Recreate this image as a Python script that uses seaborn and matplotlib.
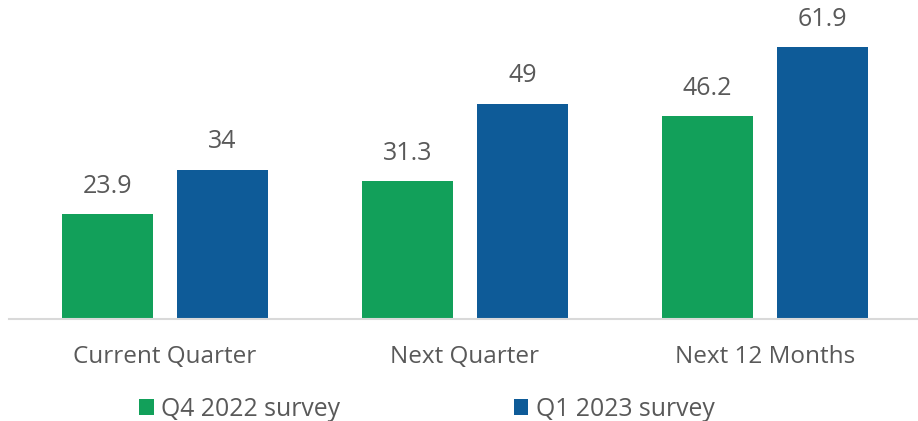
import matplotlib
matplotlib.use("Agg")
import matplotlib.pyplot as plt
import seaborn as sns
import pandas as pd
from matplotlib.patches import Patch

categories = ["Current Quarter", "Next Quarter", "Next 12 Months"]
series_names = ["Q4 2022 survey", "Q1 2023 survey"]
q4_2022 = [23.9, 31.3, 46.2]
q1_2023 = [34, 49, 61.9]
value_labels_q4 = ["23.9", "31.3", "46.2"]
value_labels_q1 = ["34", "49", "61.9"]
colors = ["#12A05A", "#0E5B98"]

df = pd.DataFrame({
    "category": categories * 2,
    "series": [series_names[0]] * 3 + [series_names[1]] * 3,
    "value": q4_2022 + q1_2023,
    "label": value_labels_q4 + value_labels_q1,
})

sns.set_theme(style="white")
plt.rcParams["font.family"] = ["Open Sans", "DejaVu Sans"]
text_color = "#595959"

fig = plt.figure(figsize=(9.18, 4.21), dpi=100)
ax = fig.add_axes([9 / 918, 102 / 421, 909 / 918, 319 / 421])

sns.barplot(data=df, x="category", y="value", hue="series",
            palette=colors, width=0.767, gap=0.217, ax=ax,
            legend=False, saturation=1, linewidth=0)

ax.set_xlim(-0.52, 2.51)
ax.set_ylim(0, 72.6)
ax.set_xlabel("")
ax.set_ylabel("")
ax.set_yticks([])
for s in ["top", "right", "left"]:
    ax.spines[s].set_visible(False)
ax.spines["bottom"].set_color("#D9D9D9")
ax.spines["bottom"].set_linewidth(1.5)
ax.tick_params(axis="x", length=0, pad=19, labelsize=17.5, labelcolor=text_color)

for cont, labs in zip(ax.containers, [value_labels_q4, value_labels_q1]):
    ax.bar_label(cont, labels=labs, padding=11, fontsize=18, color=text_color)

handles = [Patch(facecolor=c, edgecolor="none") for c in colors]
fig.legend(handles, series_names, loc="center", bbox_to_anchor=(0.465, 0.028),
           ncol=2, frameon=False, fontsize=17.8, labelcolor=text_color,
           handlelength=0.6, handleheight=0.6, handletextpad=0.3,
           columnspacing=7.0)

fig.savefig("out.png", dpi=100)
